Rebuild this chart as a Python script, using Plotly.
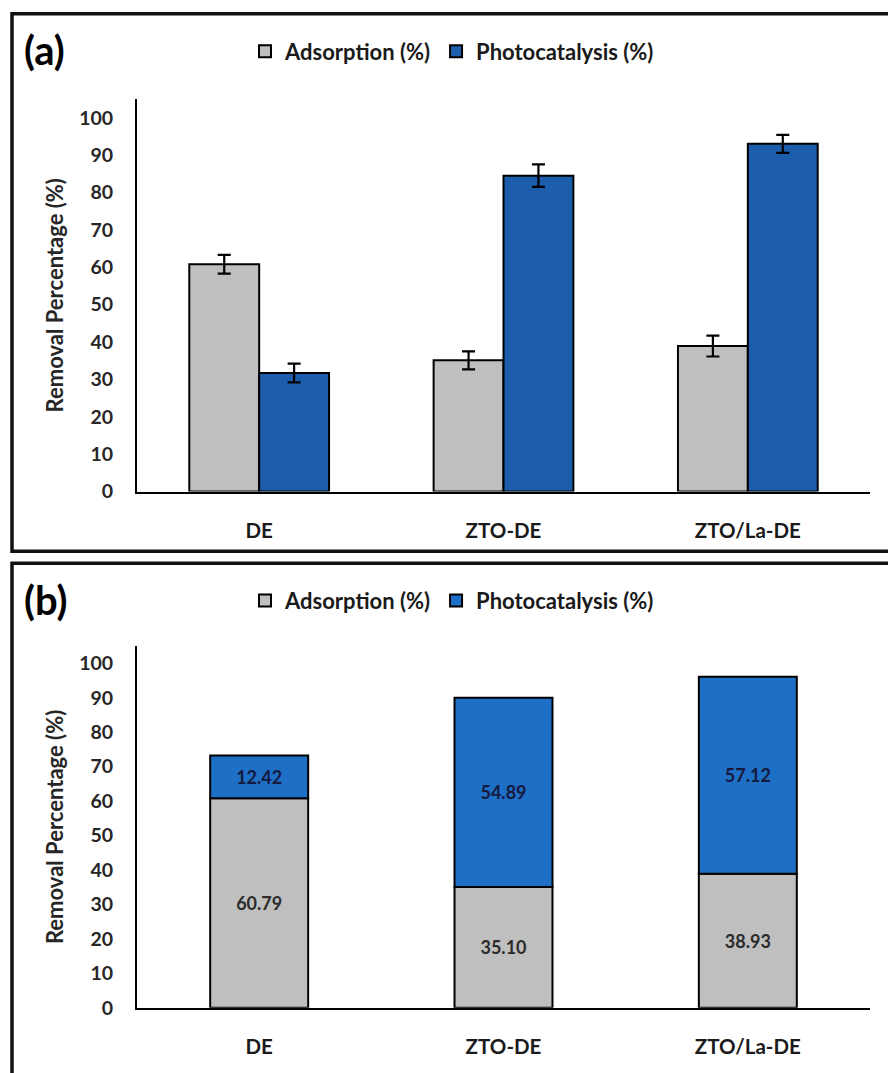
import plotly.graph_objects as go

# ---- data ----
categories = ["DE", "ZTO-DE", "ZTO/La-DE"]
# panel (a): grouped bars with error bars
adsorption_a = [60.79, 35.10, 38.93]
adsorption_a_err = [2.5, 2.4, 2.8]
photocatalysis_a = [31.7, 84.5, 93.0]
photocatalysis_a_err = [2.5, 3.0, 2.4]
# panel (b): stacked bars with data labels
adsorption_b = [60.79, 35.10, 38.93]
photocatalysis_b = [12.42, 54.89, 57.12]
y_ticks = list(range(0, 101, 10))

FONT = "Lato"
GRAY = "#BFBFBF"
BLUE_A = "#1C5EAC"
BLUE_B = "#1E6FC6"
W, H = 888, 1073

def px_x(p):
    return p / W

def px_y(p):
    return 1 - p / H

fig = go.Figure()

bar_w_a = 0.286
fig.add_trace(go.Bar(
    x=categories, y=adsorption_a, name="Adsorption (%)",
    marker=dict(color=GRAY, line=dict(color="black", width=2)),
    width=bar_w_a, offset=-bar_w_a,
    error_y=dict(type="data", array=adsorption_a_err, color="black", thickness=2.2, width=6.5),
    xaxis="x", yaxis="y", legend="legend",
))
fig.add_trace(go.Bar(
    x=categories, y=photocatalysis_a, name="Photocatalysis (%)",
    marker=dict(color=BLUE_A, line=dict(color="black", width=2)),
    width=bar_w_a, offset=0,
    error_y=dict(type="data", array=photocatalysis_a_err, color="black", thickness=2.2, width=6.5),
    xaxis="x", yaxis="y", legend="legend",
))

bar_w_b = 0.401
fig.add_trace(go.Bar(
    x=categories, y=adsorption_b, name="Adsorption (%)",
    marker=dict(color=GRAY, line=dict(color="black", width=2)),
    width=bar_w_b, offset=-bar_w_b / 2,
    text=[f"{v:.2f}" for v in adsorption_b], textposition="inside",
    insidetextanchor="middle", textangle=0, constraintext="none",
    textfont=dict(family=FONT, size=18, color="#2b2b2b", weight="bold"),
    xaxis="x2", yaxis="y2", legend="legend2",
))
fig.add_trace(go.Bar(
    x=categories, y=photocatalysis_b, base=adsorption_b, name="Photocatalysis (%)",
    marker=dict(color=BLUE_B, line=dict(color="black", width=2)),
    width=bar_w_b, offset=-bar_w_b / 2,
    text=[f"{v:.2f}" for v in photocatalysis_b], textposition="inside",
    insidetextanchor="middle", textangle=0, constraintext="none",
    textfont=dict(family=FONT, size=18, color="#15193d", weight="bold"),
    xaxis="x2", yaxis="y2", legend="legend2",
))

xdom = [px_x(137), px_x(870)]
tickfont = dict(family=FONT, size=19.5, color="#262626", weight="bold")
xtickfont = dict(family=FONT, size=20.5, color="#1a1a1a", weight="bold")
ytitle = dict(text="Removal Percentage (%)", font=dict(family=FONT, size=22, color="#262626", weight="bold"), standoff=9)

common_x = dict(showline=True, linecolor="black", linewidth=2, ticks="", showgrid=False,
                tickfont=xtickfont, ticklabelstandoff=20, fixedrange=True)
common_y = dict(range=[0, 105], tickvals=y_ticks, showline=True, linecolor="black", linewidth=2,
                ticks="", showgrid=False, zeroline=False, tickfont=tickfont,
                ticklabelstandoff=18, title=ytitle)

legend_common = dict(orientation="h", xanchor="center", yanchor="middle",
                     font=dict(family=FONT, size=22, color="#1a1a1a", weight="bold"),
                     bgcolor="rgba(0,0,0,0)", itemwidth=30, traceorder="normal")

fig.update_layout(
    width=W, height=H,
    margin=dict(l=0, r=0, t=0, b=0),
    paper_bgcolor="white", plot_bgcolor="white",
    barmode="overlay",
    showlegend=True,
    xaxis=dict(domain=xdom, anchor="y", **common_x),
    yaxis=dict(domain=[px_y(496.7), px_y(100)], anchor="x", **common_y),
    xaxis2=dict(domain=xdom, anchor="y2", **common_x),
    yaxis2=dict(domain=[px_y(1018.3), px_y(652.7)], anchor="x2", **common_y),
    legend=dict(x=px_x(452), y=px_y(52), **legend_common),
    legend2=dict(x=px_x(452), y=px_y(607), **legend_common),
    shapes=[
        dict(type="rect", xref="paper", yref="paper",
             x0=px_x(12), x1=px_x(900), y0=px_y(557), y1=px_y(14),
             line=dict(color="#111111", width=3.5)),
        dict(type="rect", xref="paper", yref="paper",
             x0=px_x(12), x1=px_x(900), y0=px_y(1090), y1=px_y(569),
             line=dict(color="#111111", width=3.5)),
    ],
    annotations=[
        dict(text="(a)", xref="paper", yref="paper", x=px_x(22), y=px_y(51),
             xanchor="left", yanchor="middle", showarrow=False,
             font=dict(family=FONT, size=40, color="black", weight="bold")),
        dict(text="(b)", xref="paper", yref="paper", x=px_x(22), y=px_y(606),
             xanchor="left", yanchor="middle", showarrow=False,
             font=dict(family=FONT, size=40, color="black", weight="bold")),
    ],
)

fig.write_html("out.html")
